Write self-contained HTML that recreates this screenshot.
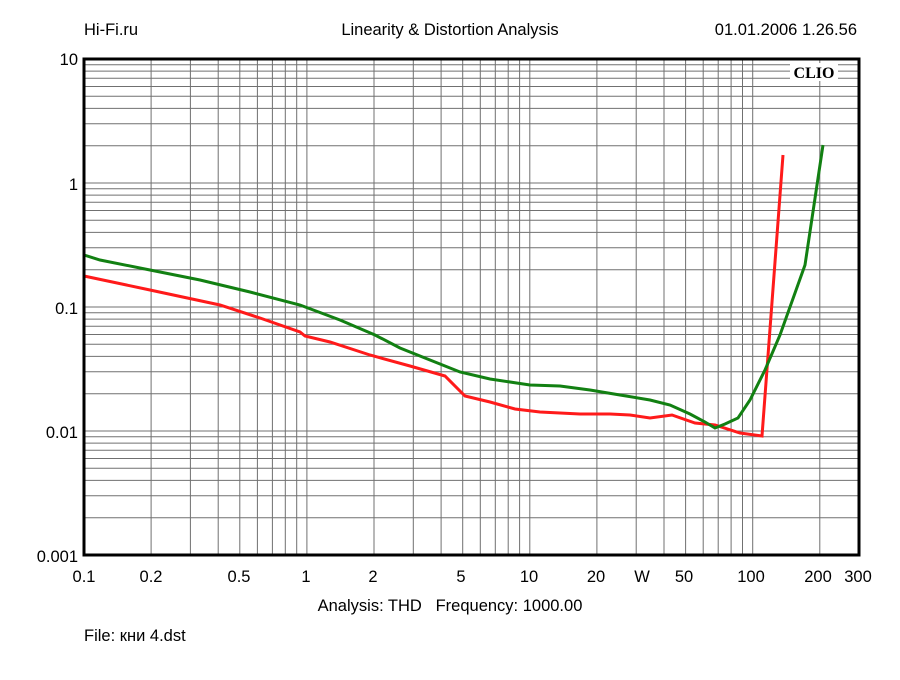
<!DOCTYPE html>
<html><head><meta charset="utf-8"><style>
body{margin:0;background:#fff;}
svg text{font-family:"Liberation Sans",sans-serif;font-size:16.5px;fill:#000;}
</style></head><body>
<svg width="900" height="675" xmlns="http://www.w3.org/2000/svg">
<rect width="900" height="675" fill="#fff"/>
<path stroke="#707070" stroke-width="1" fill="none" d="
M84 59V555M151.1 59V555M190.4 59V555M218.2 59V555M239.8 59V555M257.4 59V555M272.4 59V555M285.3 59V555M296.7 59V555
M306.9 59V555M374 59V555M413.3 59V555M441.1 59V555M462.7 59V555M480.3 59V555M495.3 59V555M508.2 59V555M519.6 59V555
M529.8 59V555M596.9 59V555M636.2 59V555M664 59V555M685.6 59V555M703.2 59V555M718.2 59V555M731.1 59V555M742.5 59V555
M752.7 59V555M819.8 59V555
M84 517.7H859M84 495.8H859M84 480.4H859M84 468.3H859M84 458.5H859M84 450.2H859M84 443.1H859M84 436.8H859
M84 431H859M84 393.7H859M84 371.8H859M84 356.4H859M84 344.3H859M84 334.5H859M84 326.2H859M84 319.1H859M84 312.8H859
M84 307H859M84 269.7H859M84 247.8H859M84 232.4H859M84 220.3H859M84 210.5H859M84 202.2H859M84 195.1H859M84 188.8H859
M84 183H859M84 145.7H859M84 123.8H859M84 108.4H859M84 96.3H859M84 86.5H859M84 78.2H859M84 71.1H859M84 64.8H859"/>
<polyline fill="none" stroke="#ff1a1a" stroke-width="3" points="84,276 150,290 220,305 260,318 300,332 305,336 330,342 370,355 410,366 445,376 465,396 490,402 515,409 540,412 580,414 610,414 630,415 650,418 672,415 695,423 715,425 740,433 762,436 783,155"/>
<polyline fill="none" stroke="#128012" stroke-width="3" points="84,255 100,260 150,270 200,280 250,292 300,305 340,320 375,335 400,348 430,360 460,372 490,379 530,385 560,386 590,390 620,395 650,400 670,405 690,414 705,422 715,428 725,424 738,418 750,400 765,370 780,335 805,265 823,145"/>
<rect x="84" y="59" width="775" height="496" fill="none" stroke="#000" stroke-width="3"/>
<rect x="790" y="63" width="48" height="18" fill="#fff"/>
<text x="814" y="78" text-anchor="middle" style="font-family:'Liberation Serif',serif;font-weight:bold;font-size:16px">CLIO</text>
<text x="84" y="35">Hi-Fi.ru</text>
<text x="450" y="35" text-anchor="middle">Linearity &amp; Distortion Analysis</text>
<text x="857" y="35" text-anchor="end">01.01.2006 1.26.56</text>
<text x="78" y="65" text-anchor="end">10</text>
<text x="78" y="190" text-anchor="end">1</text>
<text x="78" y="314" text-anchor="end">0.1</text>
<text x="78" y="438" text-anchor="end">0.01</text>
<text x="78" y="562" text-anchor="end">0.001</text>
<g text-anchor="middle">
<text x="84" y="582">0.1</text><text x="151" y="582">0.2</text><text x="239" y="582">0.5</text>
<text x="306" y="582">1</text><text x="373" y="582">2</text><text x="461" y="582">5</text>
<text x="529" y="582">10</text><text x="596" y="582">20</text><text x="642" y="582">W</text>
<text x="684" y="582">50</text><text x="751" y="582">100</text><text x="818" y="582">200</text><text x="858" y="582">300</text>
</g>
<text x="450" y="611" text-anchor="middle">Analysis: THD&#160;&#160;&#160;Frequency: 1000.00</text>
<text x="84" y="641">File: кни 4.dst</text>
</svg>
</body></html>
